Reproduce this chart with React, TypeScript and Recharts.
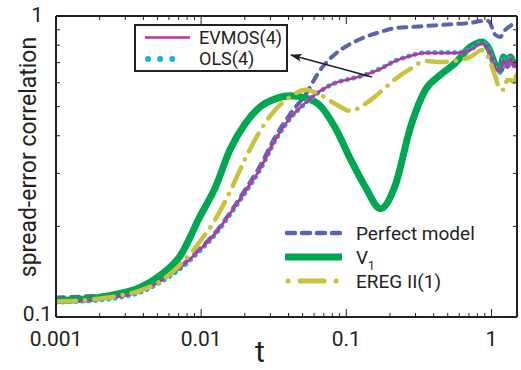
import React from "react";
import { LineChart, Line, XAxis, YAxis } from "recharts";

// time values (log axis) shared by all curves
const tValues = [
  0.001, 0.00146, 0.002, 0.00276, 0.0038, 0.0052, 0.0072, 0.0098, 0.0125, 0.0158,
  0.0201, 0.0255, 0.0324, 0.0411, 0.0522, 0.0662, 0.0839, 0.1066, 0.135, 0.172,
  0.218, 0.276, 0.351, 0.445, 0.565, 0.716, 0.867, 0.953, 1.066, 1.153,
  1.21, 1.289, 1.352, 1.418, 1.488,
];

const perfectModel = [
  0.1161, 0.1169, 0.1178, 0.1197, 0.1234, 0.1322, 0.147, 0.1687, 0.1906, 0.2222,
  0.2648, 0.318, 0.3969, 0.4731, 0.547, 0.6622, 0.7482, 0.8075, 0.8519, 0.8849,
  0.9124, 0.9194, 0.9265, 0.9336, 0.9407, 0.948, 0.9625, 0.9625, 0.8649, 0.8519,
  0.8849, 0.9124, 0.9265, 0.948, 0.9625,
];

const v1 = [
  0.1134, 0.1143, 0.1161, 0.1197, 0.1253, 0.1373, 0.16, 0.2154, 0.2689, 0.3593,
  0.4383, 0.499, 0.5306, 0.5429, 0.5346, 0.5029, 0.4251, 0.3354, 0.2709, 0.2291,
  0.2751, 0.4251, 0.5684, 0.6372, 0.6985, 0.7893, 0.8198, 0.7833, 0.688, 0.6622,
  0.7313, 0.688, 0.7313, 0.6985, 0.7146,
];

const eregII = [
  0.1126, 0.1134, 0.1151, 0.1178, 0.1224, 0.1312, 0.1493, 0.178, 0.2105, 0.2608,
  0.3354, 0.4155, 0.4879, 0.5388, 0.5684, 0.547, 0.5106, 0.4842, 0.5106, 0.5597,
  0.618, 0.6673, 0.7093, 0.7038, 0.7093, 0.7313, 0.7711, 0.7257, 0.6275, 0.5684,
  0.5684, 0.6134, 0.6134, 0.6041, 0.6372,
];

const evmos4 = [
  0.1126, 0.1134, 0.1143, 0.1169, 0.1215, 0.1312, 0.146, 0.1674, 0.1892, 0.2205,
  0.2608, 0.3108, 0.3879, 0.4589, 0.5145, 0.564, 0.5995, 0.618, 0.6372, 0.6673,
  0.7093, 0.7368, 0.7539, 0.7539, 0.7539, 0.7711, 0.8137, 0.7711, 0.6724, 0.6522,
  0.7146, 0.6724, 0.7257, 0.6776, 0.6985,
];

const ols4 = [
  0.1118, 0.1128, 0.1138, 0.1163, 0.1208, 0.1303, 0.145, 0.1662, 0.188, 0.219,
  0.259, 0.309, 0.386, 0.457, 0.513, 0.563, 0.599, 0.618, 0.638, 0.669,
  0.71, 0.738, 0.756, 0.756, 0.756, 0.774, 0.817, 0.774, 0.67, 0.65,
  0.715, 0.67, 0.727, 0.676, 0.7,
];

const xMajorTicks = [0.001, 0.01, 0.1, 1];
const xMajorLabels = ["0.001", "0.01", "0.1", "1"];
const xMinorTicks = [
  0.002, 0.003, 0.004, 0.005, 0.006, 0.007, 0.008, 0.009,
  0.02, 0.03, 0.04, 0.05, 0.06, 0.07, 0.08, 0.09,
  0.2, 0.3, 0.4, 0.5, 0.6, 0.7, 0.8, 0.9,
];
const yMajorTicks = [0.1, 1];
const yMajorLabels = ["0.1", "1"];
const yMinorTicks = [0.2, 0.3, 0.4, 0.5, 0.6, 0.7, 0.8, 0.9];

const data = tValues.map((t, i) => ({
  t,
  perfect: perfectModel[i],
  v1: v1[i],
  ereg: eregII[i],
  evmos: evmos4[i],
  ols: ols4[i],
}));

const FONT = "Roboto, 'Open Sans', sans-serif";
const INK = "#231f20";
const BLUE = "#5a62b2";
const GREEN = "#00a651";
const YELLOW = "#c9c23c";
const MAGENTA = "#c4309a";
const CYAN = "#1db3e0";

const xTicks = [...xMajorTicks, ...xMinorTicks];
const yTicks = [...yMajorTicks, ...yMinorTicks];

function BottomTick({ x, y, payload }: any) {
  const i = xMajorTicks.indexOf(payload.value);
  const major = i >= 0;
  return (
    <g>
      <line x1={x} x2={x} y1={y} y2={y - (major ? 8 : 4)} stroke={INK} strokeWidth={1} />
      {major && (
        <text x={x} y={y + 29} textAnchor="middle" fontSize={21} fontFamily={FONT} fill={INK}>
          {xMajorLabels[i]}
        </text>
      )}
    </g>
  );
}

function TopTick({ x, y, payload }: any) {
  const major = xMajorTicks.includes(payload.value);
  return <line x1={x} x2={x} y1={y} y2={y + (major ? 8 : 4)} stroke={INK} strokeWidth={1} />;
}

function LeftTick({ x, y, payload }: any) {
  const i = yMajorTicks.indexOf(payload.value);
  const major = i >= 0;
  return (
    <g>
      <line x1={x} x2={x + (major ? 8 : 4)} y1={y} y2={y} stroke={INK} strokeWidth={1} />
      {major && (
        <text
          x={x - (payload.value === 1 ? 13 : 4)}
          y={y + (payload.value === 1 ? 6 : 4)}
          textAnchor="end"
          fontSize={21}
          fontFamily={FONT}
          fill={INK}
        >
          {yMajorLabels[i]}
        </text>
      )}
    </g>
  );
}

function RightTick({ x, y, payload }: any) {
  const major = yMajorTicks.includes(payload.value);
  return <line x1={x} x2={x - (major ? 8 : 4)} y1={y} y2={y} stroke={INK} strokeWidth={1} />;
}

const frame = { stroke: INK, strokeWidth: 2 };

export default function App() {
  return (
    <div style={{ position: "absolute", left: 0, top: 0, width: 521, height: 370, background: "#fff" }}>
      <LineChart width={521} height={370} data={data} margin={{ top: 15, right: 3, bottom: 52, left: 55 }}>
        <XAxis
          dataKey="t"
          type="number"
          scale="log"
          domain={[0.001, 1.5]}
          allowDataOverflow
          ticks={xTicks}
          interval={0}
          height={1}
          tickSize={0}
          tickMargin={0}
          axisLine={frame}
          tickLine={false}
          tick={<BottomTick />}
        />
        <XAxis
          xAxisId="top"
          orientation="top"
          dataKey="t"
          type="number"
          scale="log"
          domain={[0.001, 1.5]}
          allowDataOverflow
          ticks={xTicks}
          interval={0}
          height={1}
          tickSize={0}
          tickMargin={0}
          axisLine={frame}
          tickLine={false}
          tick={<TopTick />}
        />
        <YAxis
          type="number"
          scale="log"
          domain={[0.1, 1]}
          allowDataOverflow
          ticks={yTicks}
          interval={0}
          width={1}
          tickSize={0}
          tickMargin={0}
          axisLine={frame}
          tickLine={false}
          tick={<LeftTick />}
        />
        <YAxis
          yAxisId="right"
          orientation="right"
          type="number"
          scale="log"
          domain={[0.1, 1]}
          allowDataOverflow
          ticks={yTicks}
          interval={0}
          width={1}
          tickSize={0}
          tickMargin={0}
          axisLine={frame}
          tickLine={false}
          tick={<RightTick />}
        />
        <Line
          dataKey="perfect"
          type="monotone"
          stroke={BLUE}
          strokeWidth={4}
          strokeDasharray="8 7"
          strokeLinecap="round"
          dot={false}
          isAnimationActive={false}
        />
        <Line dataKey="v1" type="monotone" stroke={GREEN} strokeWidth={7} dot={false} isAnimationActive={false} />
        <Line
          dataKey="ols"
          type="monotone"
          stroke={CYAN}
          strokeWidth={5}
          strokeDasharray="0.1 6.5"
          strokeLinecap="round"
          dot={false}
          isAnimationActive={false}
        />
        <Line dataKey="evmos" type="monotone" stroke={MAGENTA} strokeWidth={2.5} dot={false} isAnimationActive={false} />
        <Line
          dataKey="ereg"
          type="monotone"
          stroke={YELLOW}
          strokeWidth={4.5}
          strokeDasharray="20 9 0.1 9"
          strokeLinecap="round"
          dot={false}
          isAnimationActive={false}
        />
      </LineChart>

      <svg
        width={521}
        height={370}
        style={{ position: "absolute", left: 0, top: 0, pointerEvents: "none" }}
        fontFamily={FONT}
        fill={INK}
      >
        <defs>
          <marker id="head" viewBox="0 0 12 8" refX="11" refY="4" markerWidth="12" markerHeight="8" orient="auto" markerUnits="userSpaceOnUse">
            <path d="M12,4 L0,0 L3,4 L0,8 Z" fill={INK} />
          </marker>
        </defs>

        {/* axis titles */}
        <text x={36} y={157} fontSize={23} textAnchor="middle" transform="rotate(-90 36 157)">
          spread-error correlation
        </text>
        <text x={260} y={362} fontSize={30} textAnchor="middle">t</text>

        {/* boxed legend */}
        <rect x={135} y={25} width={152} height={46} fill="#fff" stroke={INK} strokeWidth={2} />
        <line x1={145} x2={190} y1={37.5} y2={37.5} stroke={MAGENTA} strokeWidth={2.5} />
        <text x={199} y={44} fontSize={18}>EVMOS(4)</text>
        <line x1={148} x2={184} y1={59} y2={59} stroke={CYAN} strokeWidth={6} strokeDasharray="0.1 12" strokeLinecap="round" />
        <text x={199} y={65} fontSize={18}>OLS(4)</text>

        {/* arrow pointing at the legend box */}
        <line x1={372} y1={77} x2={291} y2={55} stroke={INK} strokeWidth={1.3} markerEnd="url(#head)" />

        {/* lower legend */}
        <line x1={287} x2={342} y1={233} y2={233} stroke={BLUE} strokeWidth={4.5} strokeDasharray="8 7" strokeLinecap="round" />
        <text x={356} y={240} fontSize={19}>Perfect model</text>
        <line x1={285} x2={342} y1={257} y2={257} stroke={GREEN} strokeWidth={7} />
        <text x={356} y={264} fontSize={19}>
          V<tspan fontSize={12} dy={6}>1</tspan>
        </text>
        <line x1={288} x2={337} y1={281} y2={281} stroke={YELLOW} strokeWidth={5} strokeDasharray="0.1 12 24 12" strokeLinecap="round" />
        <text x={356} y={288} fontSize={19}>EREG II(1)</text>
      </svg>
    </div>
  );
}
